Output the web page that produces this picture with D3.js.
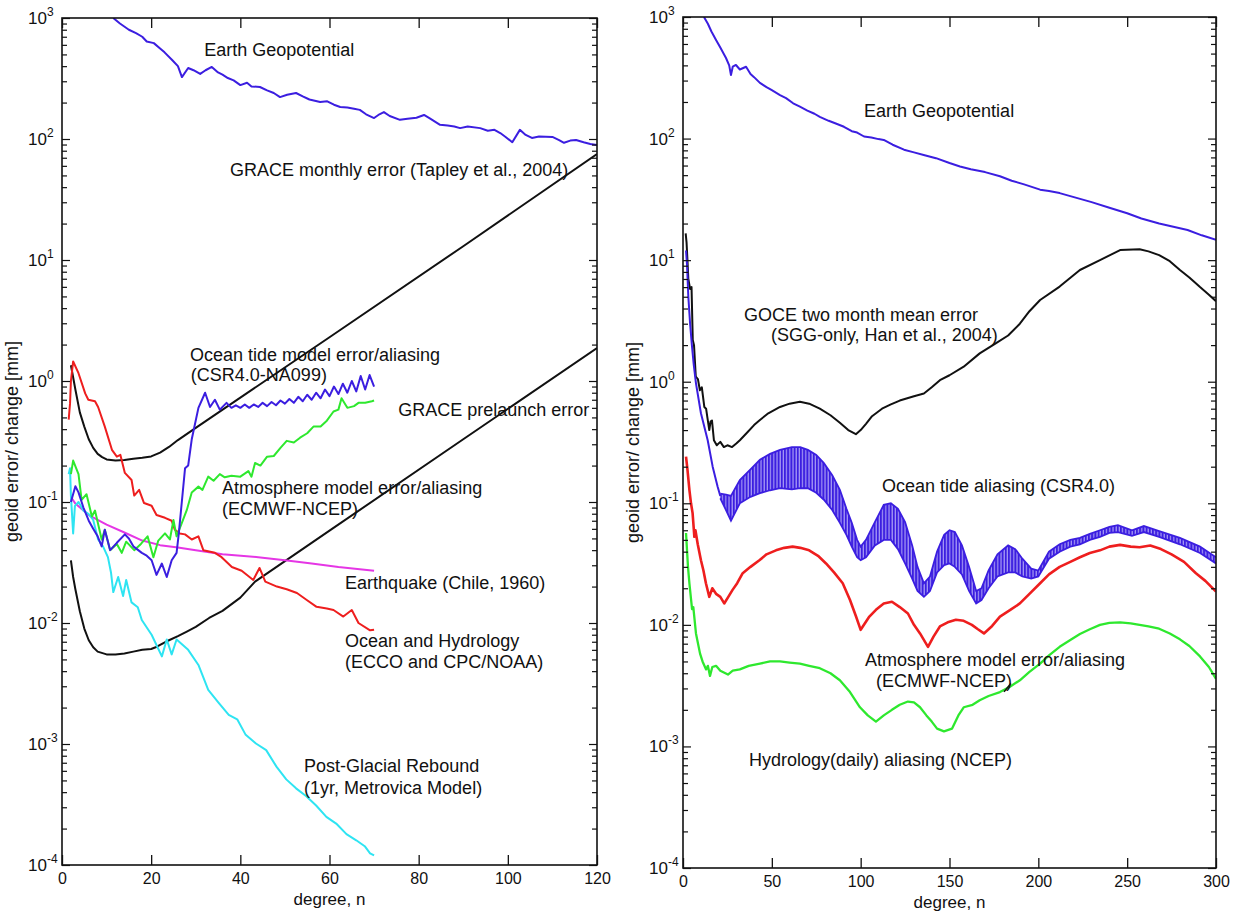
<!DOCTYPE html>
<html>
<head>
<meta charset="utf-8">
<script src="https://cdn.jsdelivr.net/npm/d3@7/dist/d3.min.js"></script>
<style>
  body { margin: 0; background: #fff; }
  svg text { font-family: "Liberation Sans", Arial, sans-serif; fill: #111; }
</style>
</head>
<body>
<svg id="chart" width="1241" height="912"></svg>
<script>
// ---- left panel, degree 0..120 : [degree n, mm]
var geoLeft = [[11.5,1000],[13,900],[15,800],[16.6,750],[18,700],[19,640],[20.6,620],[22,560],[23,520],[24.7,450],[26,400],[26.9,325],[28.3,386],[29.5,370],[31,345],[32.2,370],[33.6,394],[35,355],[36,340],[37.2,319],[38.5,305],[40,279],[41.5,292],[42.5,272],[44.4,269],[46,252],[47.5,240],[48.9,222],[50.5,232],[52.5,240],[54,225],[55.5,212],[57.9,202],[59.5,205],[61,192],[62.4,184],[64,182],[65.5,178],[66.8,174],[68.2,160],[70,149],[71.2,160],[72.2,167],[73.5,155],[75.8,144],[77.5,147],[79.5,150],[81.2,158],[82.5,148],[84.8,131],[86.5,129],[88,127],[89.3,123],[91,127],[93.8,123],[95.5,117],[97,119],[98.3,112],[99.5,104],[101,94],[102.7,119],[104,108],[105.4,102],[107,105],[110,104],[111.5,98],[112.6,93],[114,97],[115.3,98],[117,94],[118.5,91],[120,89]];
var graceMonthly = [[2,1.35],[3,0.85],[4,0.55],[5,0.42],[6,0.33],[7,0.28],[8,0.25],[9,0.235],[10,0.225],[12,0.22],[14,0.222],[16,0.228],[18,0.232],[20,0.238],[22,0.256],[24,0.285],[26,0.325],[30,0.41],[60,2.3],[90,13],[120,75]];
var gracePrelaunch = [[2,0.033],[2.5,0.024],[3,0.019],[4,0.0125],[5,0.009],[6,0.0072],[7,0.0063],[8,0.0058],[10,0.0055],[12,0.0055],[14,0.0056],[16,0.0058],[18,0.006],[20,0.0061],[21,0.0063],[22,0.0066],[24,0.0072],[26,0.0078],[28,0.0085],[30,0.0093],[33,0.011],[36,0.0126],[40,0.0162],[43.3,0.022],[60,0.058],[90,0.33],[120,1.87]];
var tideLeft = [[2,0.1],[3,0.135],[3.7,0.12],[4.8,0.09],[6,0.07],[7,0.06],[8,0.052],[8.9,0.043],[9.6,0.059],[10.8,0.04],[12.3,0.046],[14.1,0.054],[15,0.05],[16,0.043],[17.9,0.038],[19,0.036],[20.1,0.033],[21.2,0.025],[22.4,0.031],[23.5,0.024],[24.6,0.033],[25.7,0.038],[26.2,0.055],[27.6,0.19],[28.3,0.2],[29.1,0.33],[30.6,0.6],[32.1,0.8],[33.2,0.61],[34.3,0.7],[35.4,0.58],[36.9,0.66],[38,0.6],[39,0.63],[40,0.6],[41,0.64],[42,0.6],[43,0.64],[44,0.61],[45,0.66],[46,0.62],[47,0.67],[48,0.63],[49,0.69],[50,0.65],[51,0.71],[52,0.66],[53,0.74],[54,0.68],[55,0.77],[56,0.7],[57,0.8],[58,0.72],[59,0.85],[60,0.75],[61,0.9],[62,0.78],[63,0.95],[64,0.8],[65,1.0],[66,0.82],[67,1.1],[68,0.85],[69,1.12],[70,0.9]];
var atmosLeft = [[2,0.17],[2.5,0.22],[3.7,0.17],[4.4,0.104],[5.5,0.116],[6.7,0.076],[7.4,0.085],[8.9,0.049],[9.6,0.059],[10.8,0.04],[12.3,0.045],[13.4,0.038],[14.4,0.047],[16.2,0.04],[17.7,0.045],[19.2,0.052],[20.5,0.035],[21.6,0.048],[23.1,0.055],[24.2,0.049],[25,0.071],[25.7,0.052],[26.8,0.066],[28,0.086],[29.1,0.12],[30.6,0.134],[31.5,0.126],[32.8,0.162],[34,0.15],[35.4,0.17],[36.5,0.16],[38,0.165],[40,0.162],[41.8,0.18],[42.5,0.162],[43.3,0.21],[44.5,0.2],[46,0.237],[47.5,0.24],[49,0.28],[50.4,0.32],[52,0.31],[53.4,0.34],[55,0.37],[56.4,0.42],[58,0.42],[59.4,0.47],[60.9,0.56],[62,0.58],[62.7,0.72],[64,0.6],[65.5,0.62],[66.5,0.66],[68,0.66],[69.5,0.68],[70,0.69]];
var hydroLeft = [[1.5,0.48],[1.8,0.65],[2,1.0],[2.5,1.45],[3.7,1.16],[5.2,0.79],[5.9,0.7],[7.4,0.68],[8.1,0.61],[9.6,0.42],[11.2,0.27],[12.3,0.237],[13.1,0.245],[14.1,0.174],[15.6,0.152],[16.2,0.113],[17.3,0.126],[18.4,0.098],[20.1,0.093],[21.2,0.078],[23.1,0.074],[24.6,0.07],[25.3,0.059],[26.4,0.055],[27.6,0.054],[29.1,0.049],[30.6,0.052],[31.7,0.04],[34.3,0.038],[35.8,0.035],[38.1,0.029],[40.3,0.027],[42.9,0.0227],[44.3,0.0285],[45.6,0.022],[48.2,0.02],[50.4,0.019],[52.7,0.0177],[54.9,0.0155],[57.1,0.0136],[59.4,0.0132],[60.9,0.0128],[63.1,0.0113],[65,0.0128],[66.5,0.010],[69.1,0.0087],[70,0.0088]];
var quakeLeft = [[2,0.11],[3,0.097],[6,0.078],[10,0.065],[14,0.056],[18,0.048],[22,0.044],[26,0.042],[30,0.040],[36,0.037],[44,0.035],[50,0.033],[56,0.031],[62,0.029],[70,0.027]];
var pgrLeft = [[1.5,0.17],[1.8,0.19],[2,0.113],[2.5,0.055],[2.9,0.093],[3.7,0.1],[4.8,0.085],[5.9,0.08],[7,0.071],[8.1,0.049],[9.2,0.043],[10.3,0.035],[11,0.026],[11.5,0.018],[12.6,0.024],[13.7,0.0167],[14.4,0.0227],[15.6,0.0148],[17,0.0135],[17.9,0.0106],[20.1,0.008],[22.4,0.0053],[23.5,0.0073],[24.6,0.0055],[25.7,0.0073],[28.3,0.006],[30.6,0.0045],[32.8,0.0028],[35.1,0.0022],[37.4,0.00174],[39.3,0.0016],[41.2,0.00119],[43.5,0.00101],[45.8,0.00089],[48.1,0.00065],[50.3,0.00051],[52.5,0.00043],[54.8,0.00037],[57,0.00031],[59.3,0.00025],[61.5,0.00022],[63.8,0.00018],[66,0.00016],[67.9,0.000143],[69.1,0.000125],[70,0.00012]];

// ---- right panel, degree 0..300
var geoRight = [[11.8,1000],[14,880],[16,760],[18.6,647],[21,560],[24.2,460],[26,400],[27,333],[28,390],[29.8,403],[32,370],[35.5,390],[38,340],[40,320],[43.3,287],[47,265],[50,250],[54.6,228],[58,215],[62,195],[65.8,183],[70,170],[74,160],[77,151],[82,140],[86,133],[90.6,125],[95,115],[98,112],[101.9,104],[106,102],[110,99],[113,97.5],[118,89],[124.4,81],[130,77],[136,73],[142.4,69],[150,63],[155.9,59],[162,56],[170,53],[178.4,49],[185,45],[192,42],[201,38],[206,37],[212,35.6],[220,33],[230,30],[240,27],[250,24.3],[258,22],[268,20],[276,18.8],[284,17.7],[292,16],[300,14.7]];
var goceRight = [[1.5,16.6],[2,14],[2.5,10],[3,7],[4,5.8],[4.8,6],[5.5,2.2],[6.2,2.0],[7.2,1.1],[8.4,1.05],[9.5,0.85],[10.6,0.9],[12,0.62],[13,0.6],[13.8,0.5],[14.8,0.4],[15.5,0.47],[16.3,0.48],[17.4,0.33],[19,0.3],[21,0.32],[23,0.29],[25,0.3],[27.6,0.29],[30,0.31],[32,0.33],[36,0.38],[40,0.44],[43.3,0.485],[48,0.55],[54.6,0.62],[60,0.66],[65.8,0.685],[71,0.66],[77,0.6],[83,0.53],[88.3,0.46],[93,0.4],[97.3,0.37],[100,0.4],[103,0.45],[106.4,0.52],[112,0.6],[117,0.65],[122,0.7],[130,0.76],[135.6,0.8],[140,0.9],[144.6,1.03],[150,1.13],[158,1.33],[167,1.71],[176,2.07],[183,2.4],[189.6,3.0],[195,3.8],[201,4.7],[212,6.06],[223.4,8.3],[234.7,10],[246,12.1],[257,12.3],[262,11.8],[268,11],[274,9.8],[279.7,8.3],[285,7.2],[291,6.0],[296,5.2],[300,4.6]];
var tideRight = [[1.7,12],[2.3,9],[3,5],[4,3],[5,2],[6,1.4],[7.3,0.97],[10.1,0.55],[13.9,0.33],[16.7,0.2],[19.5,0.137],[21,0.115]];
// [n, lower envelope, upper envelope] of the striped ocean tide band
var tideBand = [[21,0.11,0.12],[24.2,0.088,0.118],[27,0.072,0.115],[32,0.1,0.155],[38,0.113,0.19],[43.3,0.121,0.228],[49,0.128,0.255],[54.6,0.133,0.275],[61.3,0.13,0.29],[66,0.133,0.29],[70.3,0.133,0.275],[75,0.122,0.25],[79.3,0.107,0.214],[84,0.088,0.17],[88.3,0.069,0.129],[92,0.055,0.09],[95,0.044,0.069],[98,0.036,0.05],[100,0.034,0.044],[103,0.036,0.05],[108,0.045,0.07],[113,0.05,0.097],[117,0.05,0.1],[121,0.042,0.09],[125,0.032,0.07],[129,0.024,0.045],[132,0.019,0.03],[135.6,0.017,0.022],[139,0.019,0.025],[143,0.027,0.04],[147,0.031,0.055],[150,0.032,0.06],[153,0.03,0.058],[157,0.026,0.045],[161,0.019,0.03],[165,0.015,0.019],[168,0.016,0.02],[172,0.02,0.028],[177,0.025,0.038],[183,0.027,0.045],[187,0.027,0.042],[191,0.025,0.035],[196,0.024,0.029],[200,0.025,0.028],[206,0.035,0.04],[212,0.04,0.046],[218,0.044,0.05],[223.4,0.046,0.052],[229,0.05,0.056],[234.7,0.053,0.06],[240,0.057,0.064],[244.8,0.058,0.066],[252.7,0.054,0.06],[259.4,0.058,0.065],[268,0.053,0.059],[279.7,0.046,0.052],[291,0.039,0.044],[300,0.032,0.036]];
var atmosRight = [[1.7,0.242],[2.5,0.19],[3.6,0.129],[4.5,0.1],[5.4,0.083],[6.4,0.053],[7,0.06],[8.3,0.046],[10.1,0.034],[11.5,0.028],[12.9,0.022],[14.8,0.017],[16.5,0.02],[18.6,0.018],[21,0.017],[23.2,0.015],[25.5,0.017],[27.9,0.0194],[30.5,0.022],[33.6,0.0266],[38,0.03],[43,0.034],[47,0.038],[52.3,0.041],[57,0.043],[61.7,0.044],[66,0.043],[71,0.041],[76,0.037],[80.5,0.032],[85,0.027],[89.9,0.022],[94,0.016],[97.4,0.0117],[100,0.0091],[104.9,0.0117],[108.6,0.0133],[113,0.015],[117.6,0.0155],[122,0.014],[126.6,0.0124],[130,0.01],[133.4,0.0085],[137.9,0.0066],[141,0.008],[144.6,0.0097],[149,0.0105],[153.6,0.011],[158,0.0108],[162.6,0.01],[166,0.0092],[169.4,0.0085],[174,0.0098],[178.4,0.0117],[184,0.0132],[189.6,0.015],[195,0.018],[201,0.022],[206,0.026],[212,0.03],[218,0.033],[223.4,0.036],[229,0.039],[234.7,0.041],[240,0.044],[246,0.0455],[252,0.044],[257,0.0435],[263,0.045],[269,0.042],[275,0.038],[282,0.033],[288.7,0.0266],[294,0.023],[300,0.0188]];
var hydroRight = [[1.7,0.057],[2.8,0.03],[3.6,0.022],[5.1,0.0135],[5.8,0.014],[7.3,0.0085],[9.6,0.0058],[11,0.005],[13,0.0043],[14,0.0046],[15.2,0.0038],[16.5,0.0045],[18.6,0.0046],[21,0.0042],[25.3,0.0039],[28,0.0042],[32,0.0043],[37,0.0046],[43.3,0.0048],[49,0.005],[54.6,0.005],[60,0.0049],[65.8,0.0048],[71,0.0046],[77,0.0044],[83,0.004],[88.3,0.0035],[94,0.0028],[99.6,0.0021],[104,0.0018],[108.6,0.0016],[113,0.0018],[117.6,0.002],[122,0.0022],[126.6,0.00234],[130,0.0023],[133.4,0.0021],[137,0.0018],[140,0.0016],[143,0.0014],[146.9,0.00133],[151.4,0.0014],[155,0.0018],[158,0.0021],[163,0.0022],[167,0.0024],[172,0.0026],[178.4,0.0028],[184,0.0031],[189.6,0.0035],[195,0.0041],[201,0.0048],[206,0.0056],[212,0.0066],[218,0.0075],[223.4,0.0084],[229,0.0092],[234.7,0.01],[240,0.0104],[246,0.0105],[252,0.0103],[257,0.01],[262,0.0097],[268,0.0093],[274,0.0085],[279.7,0.0076],[285,0.0067],[291,0.0055],[296,0.0045],[300,0.0036]];

// ---- annotations : [n, mm, text]
var labelsLeft = [
  [31.9, 485, "Earth Geopotential"],
  [37.7, 49.4, "GRACE monthly error (Tapley et al., 2004)"],
  [28.7, 1.46, "Ocean tide model error/aliasing"],
  [28.9, 1.0, "(CSR4.0-NA099)"],
  [75.4, 0.514, "GRACE prelaunch error"],
  [35.9, 0.1164, "Atmosphere model error/aliasing"],
  [35.9, 0.078, "(ECMWF-NCEP)"],
  [63.5, 0.0191, "Earthquake (Chile, 1960)"],
  [63.5, 0.00634, "Ocean and Hydrology"],
  [63.5, 0.00425, "(ECCO and CPC/NOAA)"],
  [54.3, 0.000587, "Post-Glacial Rebound"],
  [54.3, 0.000386, "(1yr, Metrovica Model)"]
];
var labelsRight = [
  [101.9, 150.6, "Earth Geopotential"],
  [34.3, 3.16, "GOCE two month mean error"],
  [49.5, 2.17, "(SGG-only, Han et al., 2004)"],
  [112, 0.124, "Ocean tide aliasing (CSR4.0)"],
  [102.4, 0.0046, "Atmosphere model error/aliasing"],
  [108.6, 0.0031, "(ECMWF-NCEP)"],
  [37.1, 0.00069, "Hydrology(daily) aliasing (NCEP)"]
];
var leaderRight = [[180.7, 0.00281], [184.5, 0.0033]];

var xTicksLeft = [0, 20, 40, 60, 80, 100, 120];
var xTicksRight = [0, 50, 100, 150, 200, 250, 300];
var decades = [-4, -3, -2, -1, 0, 1, 2, 3];

var BLUE = "#3b1ee0", RED = "#ee1e1e", GREEN = "#2ee82e", CYAN = "#2ee4f2", MAGENTA = "#e536e5", BLACK = "#111";

var svg = d3.select("#chart");
var defs = svg.append("defs");
var pat = defs.append("pattern").attr("id", "hatch").attr("patternUnits", "userSpaceOnUse")
  .attr("width", 3.2).attr("height", 20);
pat.append("rect").attr("width", 3.2).attr("height", 20).attr("fill", "#a99cf4");
pat.append("rect").attr("width", 2).attr("height", 20).attr("fill", BLUE);

function drawPanel(p) {
  var x = d3.scaleLinear().domain([0, p.xMax]).range([p.left, p.right]);
  var y = d3.scaleLog().domain([1e-4, 1e3]).range([p.bottom, p.top]);
  var g = svg.append("g");

  defs.append("clipPath").attr("id", "clip" + p.id).append("rect")
    .attr("x", p.left).attr("y", p.top)
    .attr("width", p.right - p.left).attr("height", p.bottom - p.top);
  var plot = g.append("g").attr("clip-path", "url(#clip" + p.id + ")");

  var line = d3.line().x(function(d){ return x(d[0]); }).y(function(d){ return y(d[1]); });

  if (p.band) {
    var area = d3.area().x(function(d){ return x(d[0]); })
      .y0(function(d){ return y(d[1]); }).y1(function(d){ return y(d[2]); });
    plot.append("path").datum(p.band).attr("d", area).attr("fill", "url(#hatch)");
    [1, 2].forEach(function(k){
      plot.append("path").datum(p.band.map(function(d){ return [d[0], d[k]]; }))
        .attr("d", line).attr("fill", "none").attr("stroke", BLUE).attr("stroke-width", 1.8);
    });
  }

  p.series.forEach(function(s){
    plot.append("path").datum(s.data).attr("d", line)
      .attr("fill", "none").attr("stroke", s.color)
      .attr("stroke-width", s.width || 2).attr("stroke-linejoin", "round");
  });

  if (p.leader) {
    plot.append("path").datum(p.leader).attr("d", line).attr("stroke", BLACK).attr("stroke-width", 1.5);
  }

  // x axis (ticks inward, bottom and top)
  g.append("g").attr("transform", "translate(0," + p.bottom + ")")
    .call(d3.axisBottom(x).tickValues(p.xTicks).tickSize(-10).tickSizeOuter(0).tickPadding(8))
    .call(function(a){ a.select(".domain").remove(); a.selectAll("line").attr("stroke", BLACK).attr("stroke-width", 1.3);
      a.selectAll("text").attr("font-size", 16).attr("font-family", "Liberation Sans, Arial, sans-serif").attr("fill", "#111"); });
  g.append("g").attr("transform", "translate(0," + p.top + ")")
    .call(d3.axisTop(x).tickValues(p.xTicks).tickSize(-10).tickSizeOuter(0).tickFormat(""))
    .call(function(a){ a.select(".domain").remove(); a.selectAll("line").attr("stroke", BLACK).attr("stroke-width", 1.3); });

  // y axis : major and minor ticks on both sides
  var majors = decades.map(function(k){ return Math.pow(10, k); });
  var minors = [];
  decades.slice(0, -1).forEach(function(k){
    for (var m = 2; m <= 9; m++) minors.push(m * Math.pow(10, k));
  });
  [[d3.axisLeft, p.left], [d3.axisRight, p.right]].forEach(function(side){
    [[majors, 8], [minors, 5]].forEach(function(t){
      g.append("g").attr("transform", "translate(" + side[1] + ",0)")
        .call(side[0](y).tickValues(t[0]).tickSize(-t[1]).tickSizeOuter(0).tickFormat(""))
        .call(function(a){ a.select(".domain").remove(); a.selectAll("line").attr("stroke", BLACK).attr("stroke-width", 1.2); });
    });
  });

  // y tick labels 10^k
  decades.forEach(function(k){
    var t = g.append("text").attr("x", p.left - 34).attr("y", y(Math.pow(10, k)) + 6).attr("font-size", 17);
    t.append("tspan").text("10");
    t.append("tspan").attr("font-size", 12).attr("dy", -8).text(k < 0 ? "-" + (-k) : k);
  });

  // frame
  g.append("rect").attr("x", p.left).attr("y", p.top)
    .attr("width", p.right - p.left).attr("height", p.bottom - p.top)
    .attr("fill", "none").attr("stroke", BLACK).attr("stroke-width", 1.6);

  // axis titles
  g.append("text").attr("x", (p.left + p.right) / 2).attr("y", p.bottom + 40)
    .attr("text-anchor", "middle").attr("font-size", 17).text("degree, n");
  g.append("text").attr("transform", "translate(" + (p.left - 44) + "," + ((p.top + p.bottom) / 2) + ") rotate(-90)")
    .attr("text-anchor", "middle").attr("font-size", 18).text("geoid error/ change [mm]");

  // curve labels
  g.selectAll("text.lbl").data(p.labels).enter().append("text").attr("class", "lbl")
    .attr("x", function(d){ return x(d[0]); }).attr("y", function(d){ return y(d[1]); })
    .attr("font-size", 18).text(function(d){ return d[2]; });
}

drawPanel({
  id: "L", xMax: 120, left: 62, right: 597, top: 18, bottom: 865, xTicks: xTicksLeft,
  series: [
    {data: geoLeft, color: BLUE},
    {data: graceMonthly, color: BLACK},
    {data: gracePrelaunch, color: BLACK},
    {data: quakeLeft, color: MAGENTA},
    {data: pgrLeft, color: CYAN},
    {data: hydroLeft, color: RED},
    {data: atmosLeft, color: GREEN},
    {data: tideLeft, color: BLUE}
  ],
  labels: labelsLeft
});

drawPanel({
  id: "R", xMax: 300, left: 683, right: 1216, top: 17, bottom: 868, xTicks: xTicksRight,
  band: tideBand,
  series: [
    {data: geoRight, color: BLUE},
    {data: goceRight, color: BLACK},
    {data: tideRight, color: BLUE},
    {data: atmosRight, color: RED, width: 2.6},
    {data: hydroRight, color: GREEN, width: 2.3}
  ],
  labels: labelsRight,
  leader: leaderRight
});
</script>
</body>
</html>
